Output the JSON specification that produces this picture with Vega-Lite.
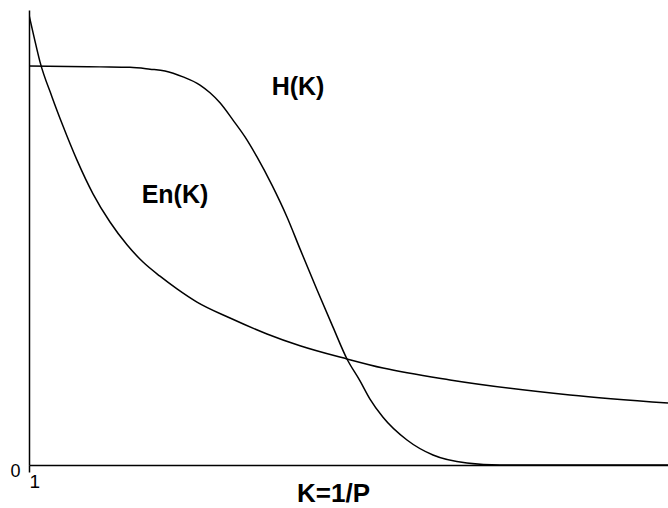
{
  "$schema": "https://vega.github.io/schema/vega-lite/v6.json",
  "width": 639,
  "height": 455,
  "autosize": {"type": "none"},
  "padding": {"left": 29, "top": 10, "right": 0, "bottom": 43},
  "background": "white",
  "config": {"view": {"stroke": null}, "font": "Liberation Sans"},
  "datasets": {
    "curves": [
      {"series": "En", "K": 1.0, "v": 0.989},
      {"series": "En", "K": 1.149, "v": 0.941},
      {"series": "En", "K": 1.327, "v": 0.886},
      {"series": "En", "K": 1.684, "v": 0.809},
      {"series": "En", "K": 2.011, "v": 0.745},
      {"series": "En", "K": 2.427, "v": 0.67},
      {"series": "En", "K": 2.903, "v": 0.596},
      {"series": "En", "K": 3.408, "v": 0.534},
      {"series": "En", "K": 3.914, "v": 0.484},
      {"series": "En", "K": 4.39, "v": 0.446},
      {"series": "En", "K": 4.895, "v": 0.415},
      {"series": "En", "K": 5.401, "v": 0.387},
      {"series": "En", "K": 5.995, "v": 0.358},
      {"series": "En", "K": 6.977, "v": 0.323},
      {"series": "En", "K": 8.077, "v": 0.288},
      {"series": "En", "K": 9.058, "v": 0.262},
      {"series": "En", "K": 10.455, "v": 0.233},
      {"series": "En", "K": 11.526, "v": 0.213},
      {"series": "En", "K": 13.518, "v": 0.187},
      {"series": "En", "K": 17.086, "v": 0.154},
      {"series": "En", "K": 20.0, "v": 0.136},
      {"series": "H", "K": 1.0, "v": 0.877},
      {"series": "H", "K": 3.111, "v": 0.875},
      {"series": "H", "K": 4.003, "v": 0.874},
      {"series": "H", "K": 4.598, "v": 0.87},
      {"series": "H", "K": 5.044, "v": 0.866},
      {"series": "H", "K": 5.579, "v": 0.853},
      {"series": "H", "K": 6.085, "v": 0.835},
      {"series": "H", "K": 6.382, "v": 0.818},
      {"series": "H", "K": 6.679, "v": 0.796},
      {"series": "H", "K": 7.066, "v": 0.758},
      {"series": "H", "K": 7.423, "v": 0.721},
      {"series": "H", "K": 7.779, "v": 0.677},
      {"series": "H", "K": 8.225, "v": 0.615},
      {"series": "H", "K": 8.671, "v": 0.545},
      {"series": "H", "K": 9.058, "v": 0.475},
      {"series": "H", "K": 9.563, "v": 0.385},
      {"series": "H", "K": 10.039, "v": 0.303},
      {"series": "H", "K": 10.455, "v": 0.233},
      {"series": "H", "K": 10.842, "v": 0.185},
      {"series": "H", "K": 11.139, "v": 0.145},
      {"series": "H", "K": 11.526, "v": 0.105},
      {"series": "H", "K": 12.239, "v": 0.055},
      {"series": "H", "K": 13.012, "v": 0.022},
      {"series": "H", "K": 14.023, "v": 0.0044},
      {"series": "H", "K": 15.005, "v": 0.0},
      {"series": "H", "K": 20.0, "v": 0.0}
    ],
    "labels": [
      {"K": 9.0, "v": 0.831, "text": "H(K)"},
      {"K": 5.341, "v": 0.593, "text": "En(K)"}
    ]
  },
  "layer": [
    {
      "data": {"name": "curves"},
      "mark": {"type": "line", "color": "black", "strokeWidth": 1.5, "interpolate": "monotone", "clip": true},
      "encoding": {
        "x": {
          "field": "K", "type": "quantitative",
          "scale": {"domain": [1, 20], "nice": false, "zero": false},
          "axis": {
            "values": [1], "format": "d", "grid": false, "domainColor": "black", "domainWidth": 1.5,
            "tickColor": "black", "tickSize": 7, "tickWidth": 1.5,
            "labelFontSize": 19, "labelColor": "black", "labelAlign": "left", "labelPadding": 0,
            "labelFont": "Liberation Sans",
            "title": "K=1/P", "titleFontSize": 26, "titleFontWeight": "bold", "titleColor": "black",
            "titleFont": "Liberation Sans", "titlePadding": 0, "titleY": 28, "titleX": 304,
            "titleBaseline": "middle", "titleAlign": "center"
          }
        },
        "y": {
          "field": "v", "type": "quantitative",
          "scale": {"domain": [0, 1], "nice": false},
          "axis": {
            "values": [0], "format": "d", "grid": false, "domainColor": "black", "domainWidth": 1.5,
            "tickSize": 0, "labelFontSize": 18, "labelColor": "black", "labelPadding": 9,
            "labelOffset": 6, "labelFont": "Liberation Sans", "title": null
          }
        },
        "detail": {"field": "series"}
      }
    },
    {
      "data": {"name": "labels"},
      "mark": {"type": "text", "fontSize": 25, "fontWeight": "bold", "color": "black", "font": "Liberation Sans", "align": "center", "baseline": "middle"},
      "encoding": {
        "x": {"field": "K", "type": "quantitative"},
        "y": {"field": "v", "type": "quantitative"},
        "text": {"field": "text"}
      }
    }
  ]
}
